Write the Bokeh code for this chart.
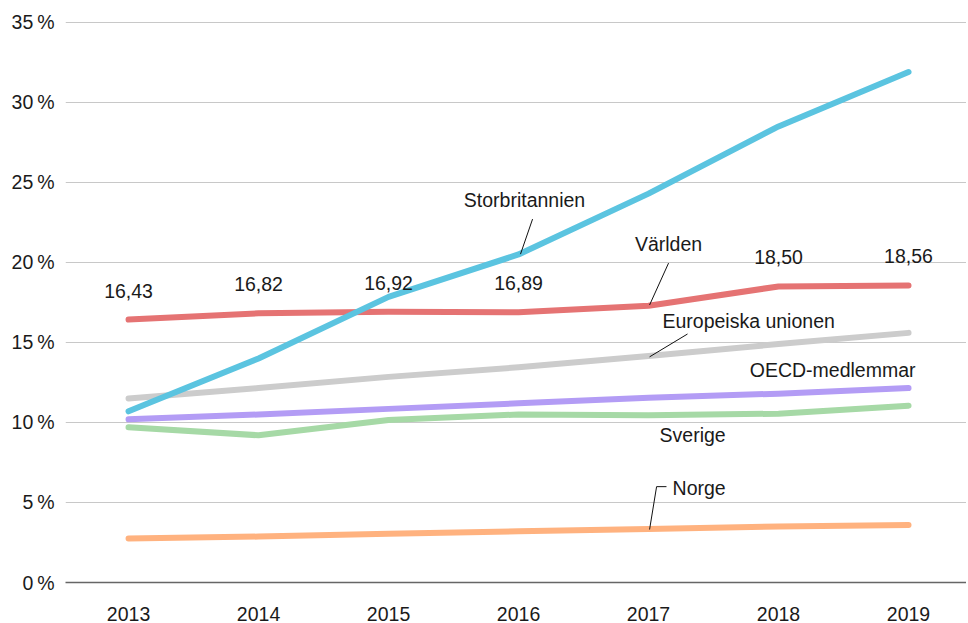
from bokeh.plotting import figure
from bokeh.models import FixedTicker, ColumnDataSource, Range1d
from bokeh.core.properties import value
from bokeh.embed import file_html
from bokeh.resources import INLINE

years = [2013, 2014, 2015, 2016, 2017, 2018, 2019]
storbritannien = [10.7, 14.0, 17.85, 20.5, 24.3, 28.5, 31.9]
varlden = [16.43, 16.82, 16.92, 16.89, 17.3, 18.50, 18.56]
eu = [11.5, 12.15, 12.85, 13.45, 14.15, 14.9, 15.6]
oecd = [10.2, 10.5, 10.85, 11.2, 11.55, 11.8, 12.15]
sverige = [9.7, 9.2, 10.15, 10.5, 10.45, 10.55, 11.05]
norge = [2.75, 2.87, 3.05, 3.2, 3.35, 3.5, 3.6]
varlden_labels = ["16,43", "16,82", "16,92", "16,89", "", "18,50", "18,56"]
y_ticks = [0, 5, 10, 15, 20, 25, 30, 35]
y_tick_labels = ["0\u2009%", "5\u2009%", "10\u2009%", "15\u2009%", "20\u2009%", "25\u2009%", "30\u2009%", "35\u2009%"]

FONT = "Liberation Sans"
FS = "19.5px"
TXT = "#1a1a1a"

p = figure(width=966, height=623, output_backend="svg", toolbar_location=None,
           x_range=Range1d(2012.515, 2019.446), y_range=Range1d(0, 35.87),
           min_border_left=65, min_border_right=0, min_border_top=8, min_border_bottom=0)
p.outline_line_color = None
p.background_fill_color = "white"
p.border_fill_color = "white"

# axes
p.xaxis.ticker = FixedTicker(ticks=years)
p.xaxis.major_tick_line_color = None
p.xaxis.minor_tick_line_color = None
p.xaxis.axis_line_color = "#666666"
p.xaxis.axis_line_width = 1.5
p.xaxis.major_label_text_font = FONT
p.xaxis.major_label_text_font_size = FS
p.xaxis.major_label_text_color = TXT
p.xaxis.major_label_standoff = 18

p.yaxis.ticker = FixedTicker(ticks=y_ticks)
p.yaxis.major_label_overrides = {t: l for t, l in zip(y_ticks, y_tick_labels)}
p.yaxis.major_tick_line_color = None
p.yaxis.minor_tick_line_color = None
p.yaxis.axis_line_color = None
p.yaxis.major_label_text_font = FONT
p.yaxis.major_label_text_font_size = FS
p.yaxis.major_label_text_color = TXT
p.yaxis.major_label_standoff = 5

p.xgrid.grid_line_color = None
p.ygrid.ticker = FixedTicker(ticks=y_ticks[1:])
p.ygrid.grid_line_color = "#c8c8c8"
p.ygrid.grid_line_width = 1.2

series = [
    (norge, "#ffb27f"),
    (sverige, "#a6d9a6"),
    (oecd, "#b39cf5"),
    (eu, "#cccccc"),
    (varlden, "#e57373"),
    (storbritannien, "#5bc4e0"),
]
for vals, col in series:
    p.line(years, vals, line_color=col, line_width=6, line_cap="round", line_join="round")

# value labels for Världen
lab_src = ColumnDataSource(dict(x=years, y=varlden, t=varlden_labels))
p.text(x="x", y="y", text="t", source=lab_src, y_offset=-29,
       text_align="center", text_baseline="middle",
       text_font=value(FONT), text_font_size=FS, text_color=TXT)

# annotations
ann_text = ["Storbritannien", "Världen", "Europeiska unionen", "OECD-medlemmar", "Sverige", "Norge"]
ann_x = [2016.046, 2017.154, 2017.77, 2019.054, 2017.085, 2017.185]
ann_y = [23.9, 21.15, 16.34, 13.29, 9.23, 5.93]
ann_align = ["center", "center", "center", "right", "left", "left"]
for t, x, y, a in zip(ann_text, ann_x, ann_y, ann_align):
    p.text(x=[x], y=[y], text=[t], text_align=a, text_baseline="middle",
           text_font=value(FONT), text_font_size=FS, text_color=TXT)

leader_xs = [[2016.108, 2016.015], [2017.154, 2017.008], [2017.30, 2017.008],
             [2017.138, 2017.062, 2017.008]]
leader_ys = [[22.71, 20.52], [19.96, 17.34], [15.53, 14.10], [5.99, 5.99, 3.31]]
for xs, ys in zip(leader_xs, leader_ys):
    p.line(xs, ys, line_color="#111111", line_width=1)

open("out.html", "w").write(file_html(p, INLINE))
